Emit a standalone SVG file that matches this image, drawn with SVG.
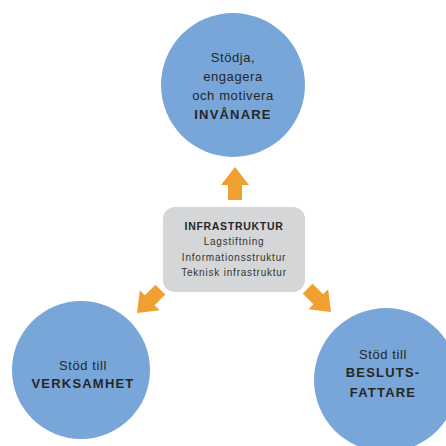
<svg xmlns="http://www.w3.org/2000/svg" width="446" height="446" viewBox="0 0 446 446">
  <style>
    .circle { fill: #78a6d8; }
    .box { fill: #d5d6d8; }
    .arrow { fill: #f0a031; }
    text { font-family: "Liberation Sans", Arial, sans-serif; fill: #262626; text-anchor: middle; }
    .c { font-size: 13px; letter-spacing: 0.6px; }
    .cb { font-size: 13px; font-weight: bold; letter-spacing: 1.2px; }
    .b { font-size: 10px; letter-spacing: 0.8px; fill: #333; }
    .bb { font-size: 10.5px; font-weight: bold; letter-spacing: 0.7px; }
  </style>
  <defs>
    <path id="arr" d="M0,0 L14,18 L7,18 L7,33 L-7,33 L-7,18 L-14,18 Z"/>
  </defs>
  <rect width="446" height="446" fill="#ffffff"/>
  <g id="connectors">
    <use href="#arr" class="arrow" transform="translate(235,167)"/>
    <use href="#arr" class="arrow" transform="translate(137,313) rotate(-135)"/>
    <use href="#arr" class="arrow" transform="translate(331,312) rotate(135)"/>
  </g>
  <g id="invanare">
    <circle class="circle" cx="233" cy="85" r="72"/>
    <text class="c" x="233" y="62">Stödja,</text>
    <text class="c" x="233" y="81">engagera</text>
    <text class="c" x="233" y="100">och motivera</text>
    <text class="cb" x="233" y="119">INVÅNARE</text>
  </g>
  <g id="infrastruktur">
    <rect class="box" x="163" y="207" width="142" height="85" rx="12"/>
    <text class="bb" x="234" y="230">INFRASTRUKTUR</text>
    <text class="b" x="234" y="245">Lagstiftning</text>
    <text class="b" x="234" y="261">Informationsstruktur</text>
    <text class="b" x="234" y="276">Teknisk infrastruktur</text>
  </g>
  <g id="verksamhet">
    <circle class="circle" cx="81" cy="370" r="69"/>
    <text class="c" x="83" y="370">Stöd till</text>
    <text class="cb" x="83" y="388">VERKSAMHET</text>
  </g>
  <g id="beslutsfattare">
    <circle class="circle" cx="386" cy="380" r="72"/>
    <text class="c" x="383" y="359">Stöd till</text>
    <text class="cb" x="383" y="377">BESLUTS-</text>
    <text class="cb" x="383" y="397">FATTARE</text>
  </g>
</svg>
